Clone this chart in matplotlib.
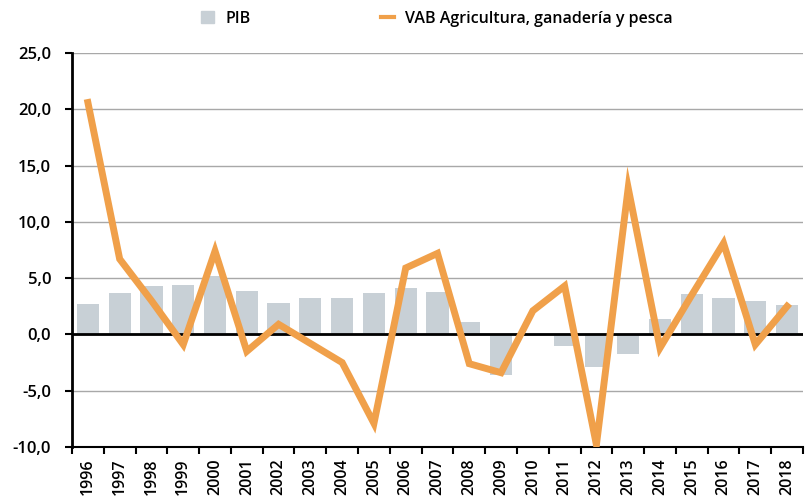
import matplotlib
matplotlib.use("Agg")
import matplotlib.pyplot as plt
from matplotlib.lines import Line2D
from matplotlib.patches import Patch
import numpy as np

plt.rcParams['font.family'] = ['Open Sans', 'DejaVu Sans']
plt.rcParams['font.weight'] = 'semibold'

years = ['1996', '1997', '1998', '1999', '2000', '2001', '2002', '2003', '2004', '2005', '2006', '2007',
         '2008', '2009', '2010', '2011', '2012', '2013', '2014', '2015', '2016', '2017', '2018']
pib = [2.7, 3.7, 4.3, 4.4, 5.2, 3.9, 2.8, 3.2, 3.2, 3.7, 4.1, 3.8,
       1.1, -3.6, 0.0, -1.0, -2.9, -1.7, 1.4, 3.6, 3.2, 3.0, 2.6]
vab_agri = [20.6, 6.7, 3.0, -0.9, 7.4, -1.5, 0.9, -0.8, -2.5, -7.9, 5.9, 7.2,
            -2.6, -3.4, 2.1, 4.3, -9.8, 13.0, -1.2, 3.5, 8.1, -0.9, 2.5]
yticks = [-10, -5, 0, 5, 10, 15, 20, 25]

bar_color = '#C8D0D6'
line_color = '#F0A04A'

fig = plt.figure(figsize=(8.05, 4.97), dpi=100)
ax = fig.add_axes([72 / 805, 50 / 497, 731 / 805, 394 / 497])

x = np.arange(len(years))
ax.bar(x, pib, width=0.7, color=bar_color, zorder=2)
ax.axhline(0, color='black', linewidth=2, zorder=3)
ax.plot(x, vab_agri, color=line_color, linewidth=5, zorder=4, solid_joinstyle='miter')

ax.set_ylim(-10, 25)
ax.set_xlim(-0.5, len(years) - 0.5)
ax.set_yticks(yticks)
ax.set_yticklabels([f'{v:.1f}'.replace('.', ',') for v in yticks], fontsize=12)
ax.yaxis.grid(True, color='#A8A8A8', linewidth=1)
ax.set_axisbelow(True)

ax.set_xticks(x)
ax.set_xticklabels(years, rotation=90, fontsize=11.5)
ax.set_xticks(np.arange(len(years) + 1) - 0.5, minor=True)
ax.tick_params(axis='x', which='major', length=0, pad=8)
ax.tick_params(axis='x', which='minor', length=5, width=1.5)
ax.tick_params(axis='y', length=5, width=1.5, pad=10)

for s in ['top', 'right']:
    ax.spines[s].set_visible(False)
ax.spines['left'].set_linewidth(2)
ax.spines['bottom'].set_linewidth(1.5)

handles = [Patch(color=bar_color, label='PIB'),
           Line2D([], [], color=line_color, linewidth=3, label='VAB Agricultura, ganadería y pesca')]
fig.legend(handles=handles, loc='center', bbox_to_anchor=(0.543, 0.962), ncol=2, frameon=False,
           fontsize=11.5, columnspacing=8.2, handlelength=0.8, handleheight=0.8, handletextpad=0.7)

fig.savefig('out.png', dpi=100)
